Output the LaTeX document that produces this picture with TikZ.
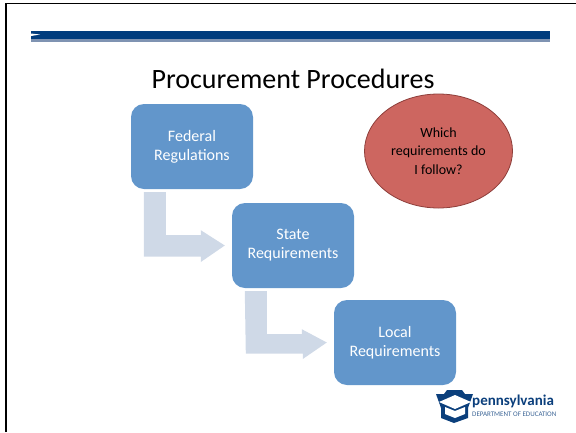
\documentclass[tikz,border=0pt]{standalone}
\usepackage{fontspec}
\setmainfont{Carlito}
\usetikzlibrary{calc,shapes.geometric}
\definecolor{barblue}{HTML}{003C7D}
\definecolor{bargray}{HTML}{7F93B2}
\definecolor{boxblue}{HTML}{6296CB}
\definecolor{arrowblue}{HTML}{CFD9E7}
\definecolor{ovalred}{HTML}{CD6660}
\definecolor{ovaledge}{HTML}{8E3F3B}
\definecolor{logoblue}{HTML}{0B3F7C}
\tikzset{
  stepbox/.style={draw=none,fill=boxblue,rounded corners=13pt,minimum width=122pt,
    minimum height=85pt,text=white,align=center,font=\fontsize{16}{19}\selectfont,inner sep=0pt},
  bentarrow/.style={fill=arrowblue,draw=none},
}
\begin{document}
\begin{tikzpicture}[x=1pt,y=-1pt]
  \useasboundingbox (0,0) rectangle (576,432);
  \draw[line width=1.2pt] (6,432) -- (6,3.5) -- (576,3.5);
  % header bar
  \fill[barblue] (31,31) rectangle (500+50,39);
  \fill[bargray] (31,39) rectangle (550,42);
  \fill[white] (31,33.5) -- (40,34.5) -- (31,36) -- cycle;
  \node[font=\fontsize{28}{32}\selectfont] (title) at (293,79) {Procurement Procedures};
  % steps
  \node[stepbox] (federal) at (192,146.5) {Federal\\Regulations};
  \node[stepbox] (state) at (293,245.5) {State\\Requirements};
  \node[stepbox] (local) at (395,342.5) {Local\\Requirements};
  \foreach \a/\b in {federal/state,state/local}
    \fill[bentarrow] ($(\a.south west)+(13,3)$) -- ++(22,0) -- ++(0,43) -- ++(35,0)
      -- ++(0,-5) -- ($(\b.west)+(-7,0)$) -- ++(-24,16.5) -- ++(0,-5.5) -- ++(-57,0) -- cycle;
  \node[ellipse,draw=ovaledge,fill=ovalred,line width=0.8pt,minimum width=148pt,minimum height=114pt,
    align=center,inner sep=0pt,font=\fontsize{14}{18.5}\selectfont] (which) at (438.5,151)
    {Which\\requirements do\\I follow?};
  % logo
  \fill[logoblue] (436,394) -- (444,394) -- (447,390) -- (462,390) -- (465,394) -- (473,394)
    -- (468,408) -- (468,418) -- (454,423) -- (441,418) -- (441,408) -- cycle;
  \fill[white] (439,402) -- (455,395) -- (471,402) -- (455,409) -- cycle;
  \fill[white] (445,407) -- (455,411) -- (465,407) -- (465,414) -- (455,418) -- (445,414) -- cycle;
  \node[anchor=west,inner sep=0pt,text=logoblue,font=\bfseries\fontsize{15}{15}\selectfont] (penn) at (472,401) {pennsylvania};
  \node[anchor=west,inner sep=0pt,text=logoblue!80,font=\fontsize{7}{7}\selectfont] (dept) at (472,414) {DEPARTMENT OF EDUCATION};
\end{tikzpicture}
\end{document}
